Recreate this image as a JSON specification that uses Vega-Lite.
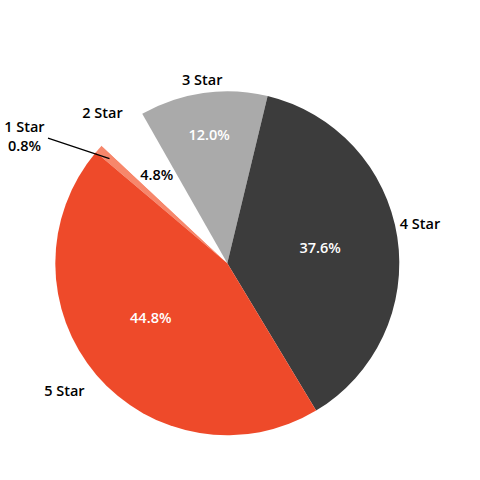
{
  "$schema": "https://vega.github.io/schema/vega-lite/v6.json",
  "width": 480,
  "height": 480,
  "padding": 0,
  "autosize": {"type": "none"},
  "background": "white",
  "config": {"view": {"stroke": null}, "text": {"font": "Open Sans", "fontSize": 14.5, "fontWeight": 600}},
  "data": {
    "values": [
      {"rating": "1 Star", "pct": 0.8},
      {"rating": "2 Star", "pct": 4.8},
      {"rating": "3 Star", "pct": 12.0},
      {"rating": "4 Star", "pct": 37.6},
      {"rating": "5 Star", "pct": 44.8}
    ]
  },
  "transform": [
    {"stack": "pct", "groupby": [], "sort": [{"field": "rating", "order": "ascending"}], "as": ["p0", "p1"]},
    {"calculate": "(datum.p0 + datum.p1) / 2", "as": "pmid"},
    {"calculate": "format(datum.pct, '.1f') + '%'", "as": "plabel"}
  ],
  "layer": [
    {
      "mark": {"type": "arc", "outerRadius": 172, "x": 227.3, "y": 263.3},
      "encoding": {
        "theta": {"field": "p0", "type": "quantitative", "scale": {"domain": [0, 100], "range": [5.414, 11.697]}},
        "theta2": {"field": "p1"},
        "color": {
          "field": "rating", "type": "nominal", "legend": null,
          "scale": {"domain": ["1 Star", "2 Star", "3 Star", "4 Star", "5 Star"], "range": ["#F7876B", "#FFFFFF", "#AAAAAA", "#3C3C3C", "#EE4A2A"]}
        }
      }
    },
    {
      "transform": [{"filter": "datum.rating === '3 Star'"}],
      "mark": {"type": "text", "x": 227.3, "y": 263.3, "radius": 130, "dy": 1, "color": "white", "baseline": "middle"},
      "encoding": {"theta": {"field": "pmid", "type": "quantitative"}, "text": {"field": "plabel"}}
    },
    {
      "transform": [{"filter": "datum.rating === '2 Star'"}],
      "mark": {"type": "text", "x": 227.3, "y": 263.3, "radius": 114, "dy": 2, "color": "black", "baseline": "middle"},
      "encoding": {"theta": {"field": "pmid", "type": "quantitative"}, "text": {"field": "plabel"}}
    },
    {
      "transform": [{"filter": "datum.rating === '4 Star'"}],
      "mark": {"type": "text", "x": 227.3, "y": 263.3, "radius": 94, "dy": 0, "color": "white", "baseline": "middle"},
      "encoding": {"theta": {"field": "pmid", "type": "quantitative"}, "text": {"field": "plabel"}}
    },
    {
      "transform": [{"filter": "datum.rating === '5 Star'"}],
      "mark": {"type": "text", "x": 227.3, "y": 263.3, "radius": 94, "dx": -5, "dy": -5, "color": "white", "baseline": "middle"},
      "encoding": {"theta": {"field": "pmid", "type": "quantitative"}, "text": {"field": "plabel"}}
    },
    {
      "transform": [{"filter": "datum.rating === '2 Star'"}],
      "mark": {"type": "text", "x": 227.3, "y": 263.3, "radius": 195, "dx": -4, "dy": 4, "color": "black", "baseline": "middle"},
      "encoding": {"theta": {"field": "pmid", "type": "quantitative"}, "text": {"field": "rating"}}
    },
    {
      "transform": [{"filter": "datum.rating === '3 Star'"}],
      "mark": {"type": "text", "x": 227.3, "y": 263.3, "radius": 186, "dx": 1, "dy": 2, "color": "black", "baseline": "middle"},
      "encoding": {"theta": {"field": "pmid", "type": "quantitative"}, "text": {"field": "rating"}}
    },
    {
      "transform": [{"filter": "datum.rating === '4 Star'"}],
      "mark": {"type": "text", "x": 227.3, "y": 263.3, "radius": 195, "dy": -9, "color": "black", "baseline": "middle"},
      "encoding": {"theta": {"field": "pmid", "type": "quantitative"}, "text": {"field": "rating"}}
    },
    {
      "transform": [{"filter": "datum.rating === '5 Star'"}],
      "mark": {"type": "text", "x": 227.3, "y": 263.3, "radius": 195, "dx": -14.5, "dy": 2.5, "color": "black", "baseline": "middle"},
      "encoding": {"theta": {"field": "pmid", "type": "quantitative"}, "text": {"field": "rating"}}
    },
    {
      "transform": [
        {"filter": "datum.rating === '1 Star'"},
        {"calculate": "[datum.rating, datum.plabel]", "as": "lines"}
      ],
      "mark": {"type": "text", "x": 227.3, "y": 263.3, "radius": 230, "dx": -31, "dy": 18, "color": "black", "baseline": "middle", "lineHeight": 19},
      "encoding": {"theta": {"field": "pmid", "type": "quantitative"}, "text": {"field": "lines"}}
    },
    {
      "transform": [
        {"filter": "datum.rating === '1 Star'"},
        {"calculate": "5.414 + 2 * PI * datum.pmid / 100", "as": "ang"},
        {"calculate": "227.3 + 157.6 * sin(datum.ang)", "as": "lx1"},
        {"calculate": "263.3 - 157.6 * cos(datum.ang)", "as": "ly1"},
        {"calculate": "227.3 + 218.7 * sin(datum.ang - 0.117)", "as": "lx2"},
        {"calculate": "263.3 - 218.7 * cos(datum.ang - 0.117)", "as": "ly2"}
      ],
      "mark": {"type": "rule", "color": "black", "strokeWidth": 1.2},
      "encoding": {
        "x": {"field": "lx2", "type": "quantitative", "scale": null},
        "y": {"field": "ly2", "type": "quantitative", "scale": null},
        "x2": {"field": "lx1"},
        "y2": {"field": "ly1"}
      }
    }
  ]
}
